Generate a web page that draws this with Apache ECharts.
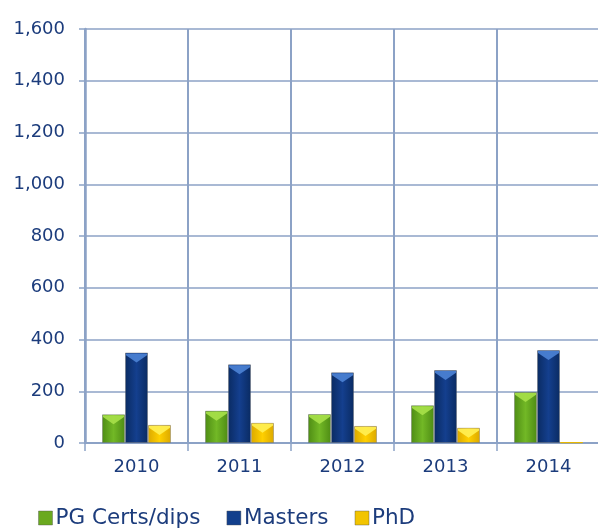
<!DOCTYPE html>
<html>
<head>
<meta charset="utf-8">
<script src="https://cdn.jsdelivr.net/npm/echarts@6/dist/echarts.min.js"></script>
<style>
  html, body { margin: 0; padding: 0; background: #ffffff; }
  #chart { width: 598px; height: 532px; }
</style>
</head>
<body>
<div id="chart"></div>
<script>
// Postgraduate enrolments by award type
const years = ['2010', '2011', '2012', '2013', '2014'];
const pgCerts = [111, 125, 112, 146, 197];
const masters = [350, 304, 273, 282, 359];
const phd = [70, 78, 66, 59, 3];
const yTicks = { min: 0, max: 1600, step: 200 };

const axisBlue = '#8ca2c6';
const textBlue = '#1c3c7c';

function hGrad(edge, mid) {
  return new echarts.graphic.LinearGradient(0, 0, 1, 0, [
    { offset: 0, color: edge },
    { offset: 0.5, color: mid },
    { offset: 1, color: edge }
  ]);
}

const styles = [
  { name: 'PG Certs/dips', data: pgCerts, body: hGrad('#4e8c14', '#72b826'), cap: '#a4de48', legend: '#6aa91f', flat: '#6aa91f' },
  { name: 'Masters', data: masters, body: hGrad('#0a2b62', '#143f8e'), cap: '#4a80d2', legend: '#123f8c', flat: '#123f8c' },
  { name: 'PhD', data: phd, body: hGrad('#dba800', '#ffd000'), cap: '#ffee50', legend: '#f2c400', flat: '#e8b800' }
];

const BAR_W = 23;

const series = [];
styles.forEach(s => {
  series.push({
    name: s.name,
    type: 'bar',
    // very short bars are drawn as a flat coloured sliver
    data: s.data.map(v => (v < 20 ? { value: v, itemStyle: { color: s.flat, borderColor: s.flat } } : v)),
    barWidth: BAR_W,
    barGap: '0%',
    itemStyle: {
      color: s.body,
      borderColor: 'rgba(90,90,90,0.35)',
      borderWidth: 1
    },
    emphasis: { disabled: true }
  });
});
// bevelled cap on top of each bar
styles.forEach(s => {
  series.push({
    name: s.name,
    type: 'pictorialBar',
    data: s.data.map(v => (v >= 20 ? v : '-')),
    barWidth: BAR_W,
    barGap: '0%',
    symbol: 'path://M0,0 L10,0 L10,1 L5,5 L0,1 Z',
    symbolSize: [BAR_W - 2, 9],
    symbolPosition: 'end',
    symbolOffset: [0, 1],
    z: 3,
    itemStyle: { color: s.cap, opacity: 0.95 },
    silent: true,
    emphasis: { disabled: true }
  });
});

const chart = echarts.init(document.getElementById('chart'), null, { renderer: 'canvas' });
chart.setOption({
  animation: false,
  backgroundColor: '#ffffff',
  grid: { left: 85, top: 29, right: -2, bottom: 89, containLabel: false, outerBoundsMode: 'none' },
  legend: {
    left: 38,
    top: 507,
    padding: 0,
    itemWidth: 14,
    itemHeight: 14,
    itemGap: 26,
    icon: 'rect',
    data: styles.map(s => ({ name: s.name, itemStyle: { color: s.legend, borderColor: 'rgba(80,80,80,0.4)', borderWidth: 1 } })),
    textStyle: { color: textBlue, fontSize: 21.5, fontFamily: 'DejaVu Sans', padding: [0, 0, 0, -2] }
  },
  xAxis: {
    type: 'category',
    data: years,
    boundaryGap: true,
    axisLine: { show: true, lineStyle: { color: axisBlue, width: 2 } },
    axisTick: { show: true, length: 8, interval: 0, lineStyle: { color: axisBlue, width: 1.5 } },
    axisLabel: { color: textBlue, fontSize: 18, fontFamily: 'DejaVu Sans', margin: 15, interval: 0 },
    splitLine: { show: true, interval: 0, lineStyle: { color: axisBlue, width: 2 } }
  },
  yAxis: {
    type: 'value',
    min: yTicks.min,
    max: yTicks.max,
    interval: yTicks.step,
    axisLine: { show: true, lineStyle: { color: axisBlue, width: 2.5 } },
    axisTick: { show: true, length: 6, lineStyle: { color: axisBlue, width: 1.5 } },
    axisLabel: {
      color: textBlue,
      fontSize: 18,
      fontFamily: 'DejaVu Sans',
      margin: 20,
      formatter: v => v.toLocaleString('en-US')
    },
    splitLine: { show: true, lineStyle: { color: axisBlue, width: 1.5 } }
  },
  series: series
});
</script>
</body>
</html>
